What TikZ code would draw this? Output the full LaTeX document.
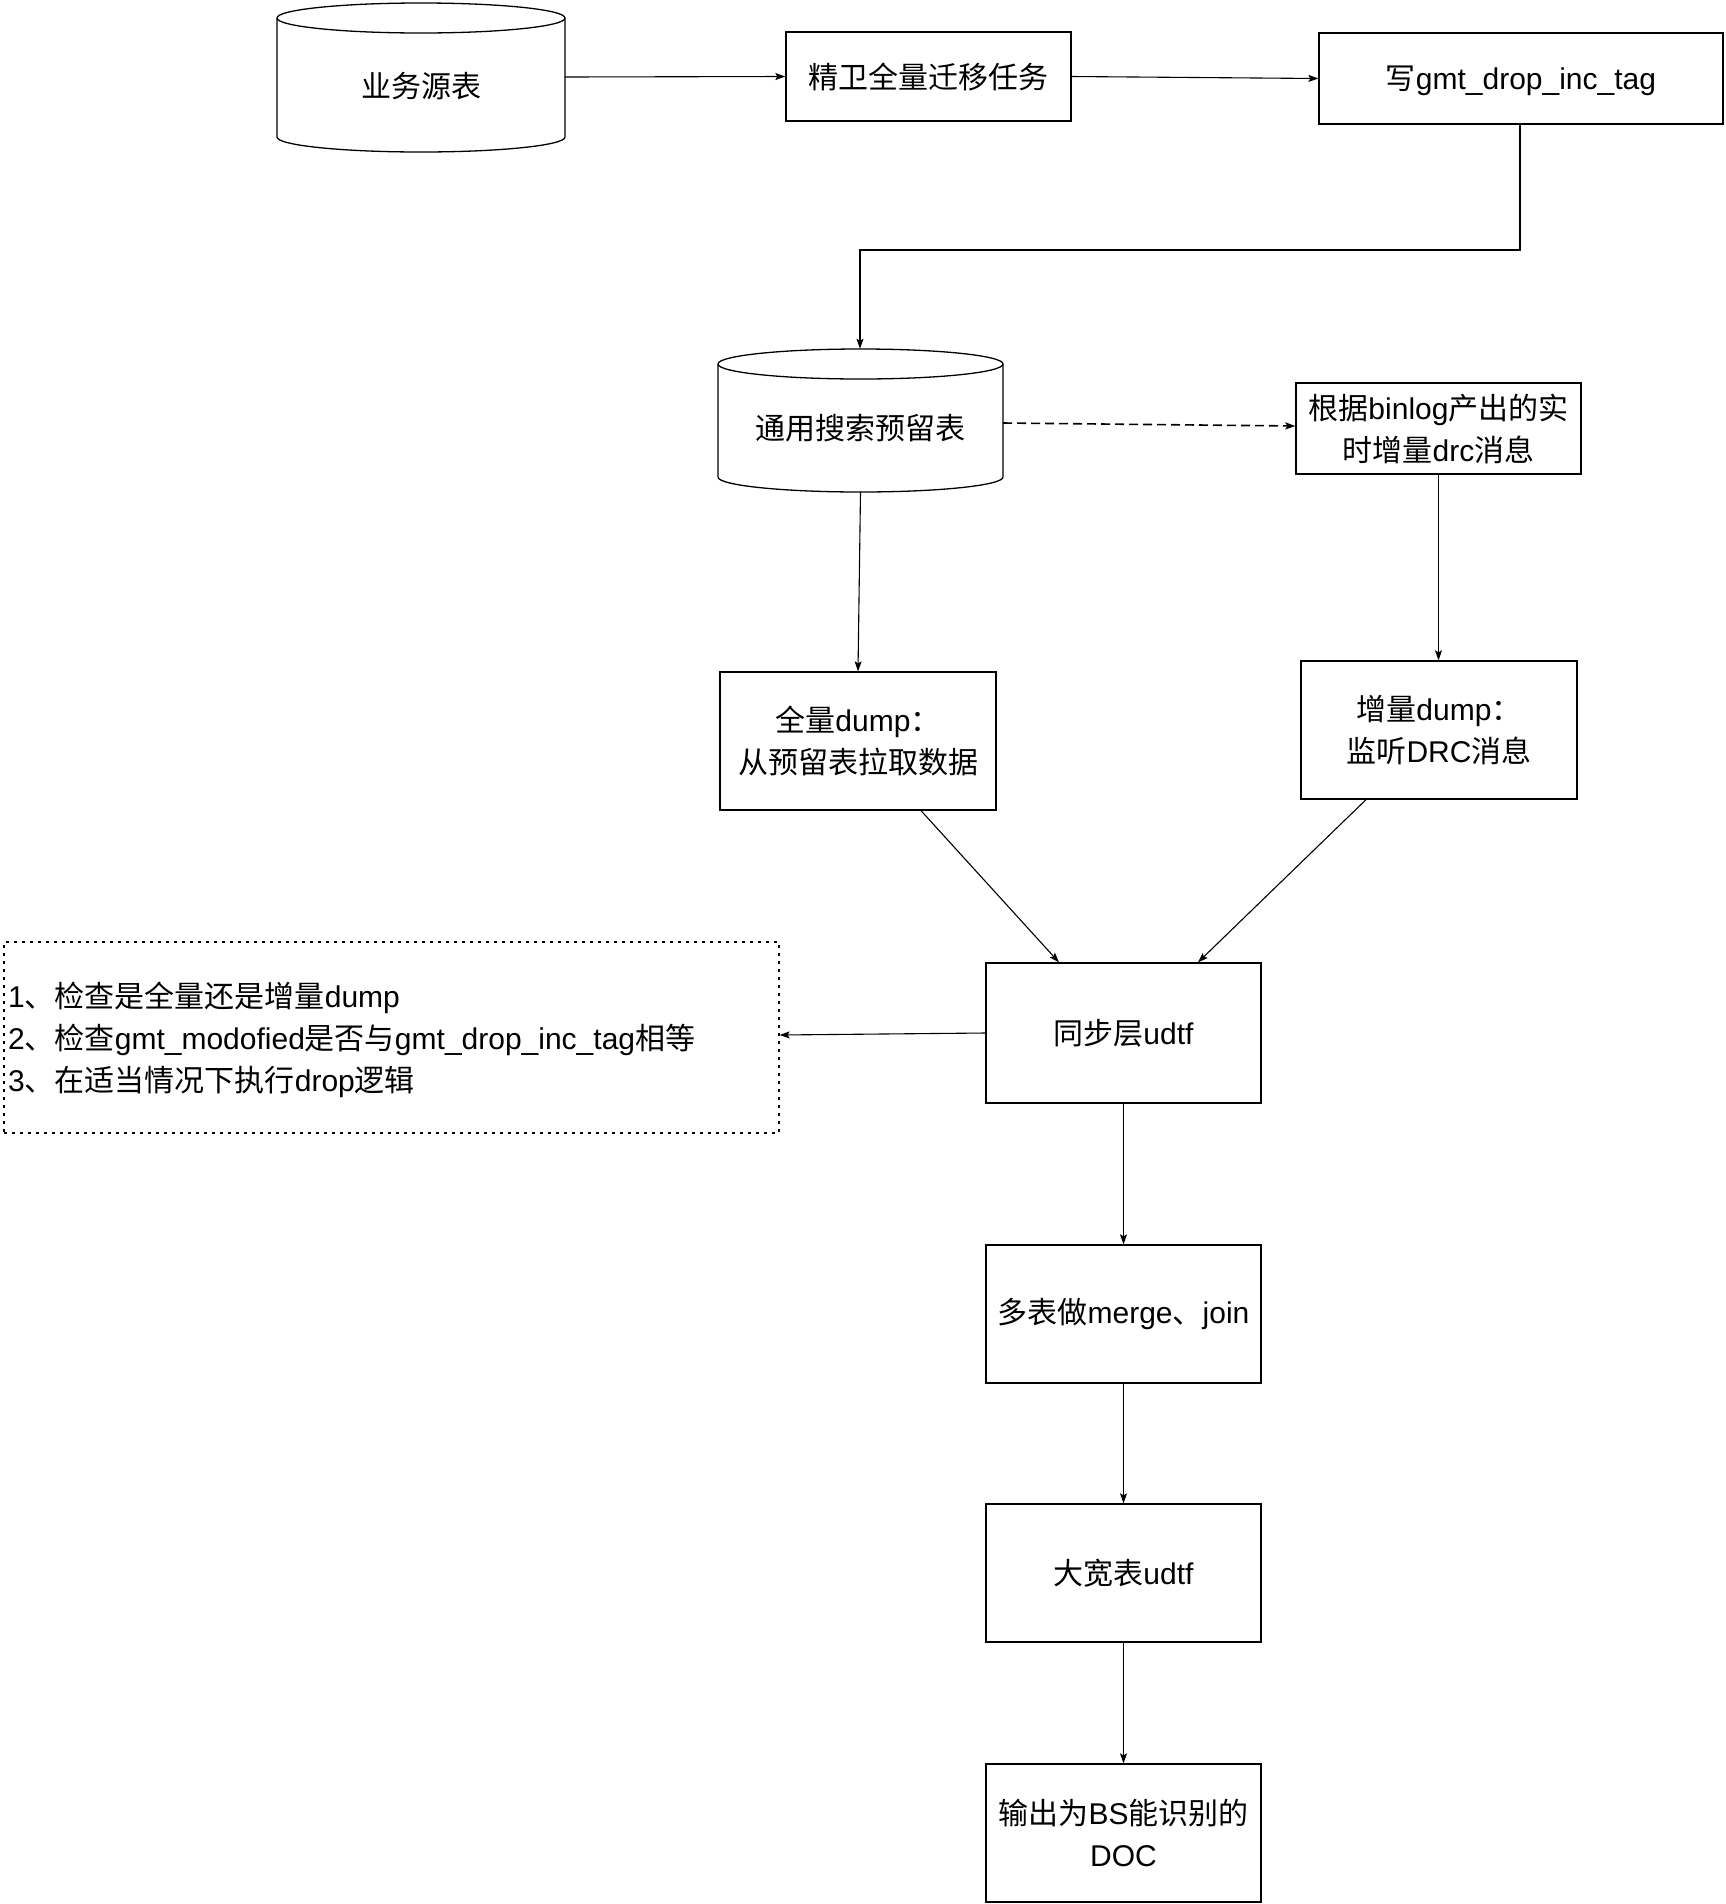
\documentclass[tikz,border=0pt]{standalone}
\usepackage{fontspec}
\setmainfont{Liberation Sans}
\newfontfamily\cjk{Noto Sans CJK SC}
\newcommand\zh[1]{{\cjk #1}}
\usetikzlibrary{arrows.meta}
\begin{document}
\begin{tikzpicture}[x=1pt,y=-1pt,
  every node/.style={font=\fontsize{30}{42}\selectfont, text=black},
  box/.style={draw, line width=1.3pt, inner sep=0pt, align=center},
  plain/.style={inner sep=0pt, align=center},
  conn/.style={draw, line width=1.1pt, -{Stealth[length=10pt,width=7pt,inset=2pt]}},
  dconn/.style={conn, line width=1.6pt, dash pattern=on 9pt off 5pt},
  cyl/.style={line width=1.3pt}]
\useasboundingbox (0,0) rectangle (1726,1904);
\fill[white] (0,0) rectangle (1726,1904);

% cylinder 1
\draw[cyl] (277,18) -- (277,137) arc[start angle=180,end angle=360,x radius=144pt,y radius=15pt] -- (565,18);
\draw[cyl] (421,18) ellipse[x radius=144pt,y radius=15pt];
\node[plain, minimum width=288pt, minimum height=150pt] (c1) at (421,77) {};
\node[plain] (t1) at (421,86) {\zh{业务源表}};

% cylinder 2
\draw[cyl] (718,364) -- (718,477) arc[start angle=180,end angle=360,x radius=142.5pt,y radius=15pt] -- (1003,364);
\draw[cyl] (860.5,364) ellipse[x radius=142.5pt,y radius=15pt];
\node[plain, minimum width=285pt, minimum height=143pt] (c2) at (860.5,420.5) {};
\node[plain] (t2) at (860,428) {\zh{通用搜索预留表}};

% boxes
\node[box, minimum width=285pt, minimum height=89pt] (b1) at (928.5,76.5) {\zh{精卫全量迁移任务}};
\node[box, minimum width=404pt, minimum height=91pt] (b2) at (1521,78.5) {};
\node[plain] (b2t) at (1521,81) {\zh{写}gmt\_drop\_inc\_tag};
\node[box, minimum width=285pt, minimum height=91pt] (drc) at (1438.5,428.5) {\zh{根据}binlog\zh{产出的实}\\\zh{时增量}drc\zh{消息}};
\node[box, minimum width=276pt, minimum height=138pt] (full) at (858,741) {\zh{全量}dump\zh{：}\\\zh{从预留表拉取数据}};
\node[box, minimum width=276pt, minimum height=138pt] (inc) at (1439,730) {\zh{增量}dump\zh{：}\\\zh{监听}DRC\zh{消息}};
\node[box, minimum width=275pt, minimum height=140pt] (sync) at (1123.5,1033) {\zh{同步层}udtf};
\node[box, minimum width=275pt, minimum height=138pt] (merge) at (1123.5,1314) {\zh{多表做}merge\zh{、}join};
\node[box, minimum width=275pt, minimum height=138pt] (wide) at (1123.5,1573) {\zh{大宽表}udtf};
\node[box, minimum width=275pt, minimum height=138pt] (out) at (1123.5,1833) {\zh{输出为}BS\zh{能识别的}\\DOC};

% dotted note
\node[draw, line width=1.3pt, dash pattern=on 3pt off 5pt, minimum width=775pt, minimum height=191pt, inner sep=0pt] (note) at (391.5,1037.5) {};
\node[plain, align=left, anchor=west] (notetext) at (8,1040) {1\zh{、检查是全量还是增量}dump\\2\zh{、检查}gmt\_modofied\zh{是否与}gmt\_drop\_inc\_tag\zh{相等}\\3\zh{、在适当情况下执行}drop\zh{逻辑}};

% connectors
\draw[conn] (c1.east |- 0,77) -- (b1.west);
\draw[conn] (b1.east) -- (b2.west);
\coordinate (e1) at (1520,250);
\coordinate (e2) at (860,250);
\draw[conn] (b2.south -| e1) -- (e1) -- (e2) -- (c2.north -| e2);
\draw[dconn] (1003,423) -- (drc.west |- 0,426);
\draw[conn] (c2.south) -- (full.north);
\draw[conn] (drc.south) -- (inc.north -| drc.south);
\draw[conn] (full.south -| 921,0) -- (sync.north -| 1059,0);
\draw[conn] (inc.south -| 1366,0) -- (sync.north -| 1198,0);
\draw[conn] (sync.west) -- (note.east |- 0,1035);
\draw[conn] (sync.south) -- (merge.north);
\draw[conn] (merge.south) -- (wide.north);
\draw[conn] (wide.south) -- (out.north);
\end{tikzpicture}
\end{document}
